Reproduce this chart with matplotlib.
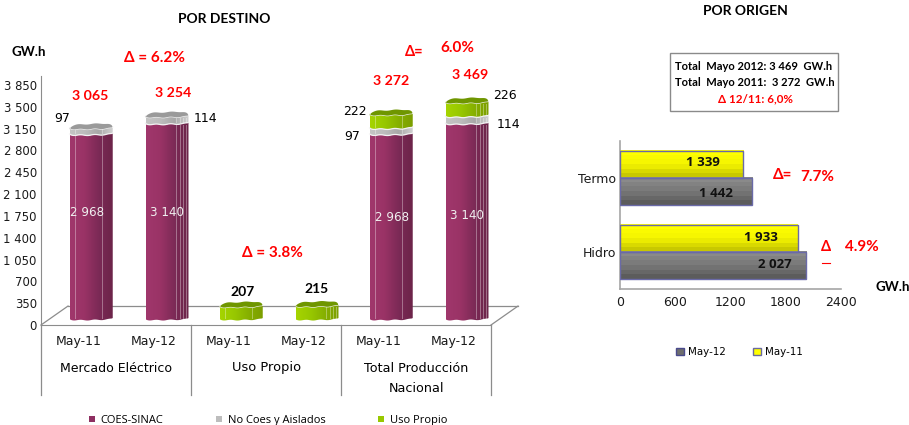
import matplotlib
matplotlib.use("Agg")
import matplotlib.pyplot as plt
import numpy as np
from matplotlib.patches import Polygon, Rectangle
from matplotlib.colors import LinearSegmentedColormap

W, H = 909, 425

# stacked cylinders, por destino
periods = ["May-11", "May-12", "May-11", "May-12", "May-11", "May-12"]
groups = ["Mercado Eléctrico", "Uso Propio", "Total Producción", "Nacional"]
coes = [2968, 3140, 0, 0, 2968, 3140]
no_coes = [97, 114, 0, 0, 97, 114]
uso_propio = [0, 0, 207, 215, 222, 226]
totals = ["3 065", "3 254", "207", "215", "3 272", "3 469"]
y_ticks = [0, 350, 700, 1050, 1400, 1750, 2100, 2450, 2800, 3150, 3500, 3850]
y_labels = ["0", "350", "700", "1 050", "1 400", "1 750", "2 100", "2 450", "2 800", "3 150", "3 500", "3 850"]

# horizontal bars, por origen
origen = ["Hidro", "Termo"]
may12 = [2027, 1442]
may11 = [1933, 1339]
x_ticks = [0, 600, 1200, 1800, 2400]

plt.rcParams["font.family"] = ["DejaVu Sans"]
BOLD = ["Lato", "DejaVu Sans"]
RED = "#ff0000"
GRID = "#8c8c8c"

fig = plt.figure(figsize=(W / 100, H / 100), dpi=100)


def px_axes(x0, y0, x1, y1):
    # axes rectangle given in picture pixels, y going down
    return fig.add_axes([x0 / W, 1 - y1 / H, (x1 - x0) / W, (y1 - y0) / H])


# overlay for free text, in picture pixels
top = px_axes(0, 0, W, H)
top.set_xlim(0, W)
top.set_ylim(H, 0)
top.axis("off")
top.set_zorder(5)


def label(x, y, s, **kw):
    kw.setdefault("ha", "center")
    kw.setdefault("va", "center")
    top.text(x, y, s, **kw)


def red(x, y, s, size=10.5):
    label(x, y, s, color=RED, fontsize=size, fontweight="bold", family=BOLD)


purple = LinearSegmentedColormap.from_list("p", ["#a0376c", "#9a3366", "#7c2a56", "#6c2449"])
silver = LinearSegmentedColormap.from_list("s", ["#c4c4c4", "#bdbdbd", "#a8a8a8", "#d0d0d0"])
green = LinearSegmentedColormap.from_list("g", ["#a6d400", "#98c800", "#86b000", "#7c9e00"])

YMAX = 4000
ax = px_axes(41, 325 - YMAX * 240 / 3850, 491, 325)
ax.set_xlim(-0.5, 5.5)
ax.set_ylim(0, YMAX)
ax.patch.set_alpha(0)

# 3d look: the bars stand on a floor that is pushed back and to the right
DX = 0.17
BASE = 96
BAR_W = 0.573
ELL = 85  # height of the end caps, in value units
u = np.linspace(-1, 1, 61)
front = -24 * (1 - u ** 4) ** 0.5 + 7 * np.sin(3 * np.pi * u) + 16 * (u + 1) / 2


def cylinder(x, bottom, height, cmap, cap=None):
    x0 = x + DX - BAR_W / 2 + (0.01 if x % 2 else 0)
    xs = x0 + (u + 1) / 2 * BAR_W
    lo = bottom + BASE + front
    hi = lo + height
    verts = list(zip(xs, lo)) + list(zip(xs[::-1], hi[::-1]))
    body = Polygon(verts, closed=True, fc="none", ec="none", clip_on=False, zorder=3)
    ax.add_patch(body)
    im = ax.imshow(np.linspace(0, 1, 64).reshape(1, -1), extent=(x0, x0 + BAR_W, lo.min(), hi.max()),
                   aspect="auto", cmap=cmap, zorder=3, clip_on=True)
    im.set_clip_path(body)
    # white edge lines and the facets of the chart's rough cylinder
    ax.plot(xs, hi, color="#f2f2f2", lw=0.9, zorder=4, clip_on=False)
    facets = (0.72, 0.8, 0.88, 0.95) if x % 2 else (0.12, 0.74)
    for f in facets:
        ax.plot([x0 + BAR_W * f] * 2, [lo.max(), hi.min()], color="white", alpha=.35, lw=.7, zorder=4)
    if cap:
        up = hi.mean() + ELL * (1 - u ** 6) ** 0.5 * (0.9 + 0.08 * np.sin(2.5 * np.pi * u)) + 14 * u
        ax.add_patch(Polygon(list(zip(xs, hi)) + list(zip(xs[::-1], up[::-1])), closed=True,
                             fc=cap, ec="none", zorder=4, clip_on=False))


# floor and back wall edge
floor_x = [-0.5 + 27 / 75, 5.5 + 27 / 75]
ax.plot(floor_x, [304, 304], color=GRID, lw=0.9, zorder=1, clip_on=False)
ax.plot([-0.5, floor_x[0]], [0, 304], color=GRID, lw=0.9, zorder=1, clip_on=False)
ax.plot([5.5, floor_x[1]], [0, 304], color=GRID, lw=0.9, zorder=1, clip_on=False)

for i in range(6):
    b = 0
    layers = [(coes[i], purple, None), (no_coes[i], silver, "#9a9a9a"), (uso_propio[i], green, "#6f9600")]
    present = [l for l in layers if l[0] > 0]
    for j, (v, cm, cap) in enumerate(present):
        cylinder(i, b, v, cm, cap if j == len(present) - 1 else None)
        b += v

ax.set_xlim(-0.5, 5.5)
ax.set_ylim(0, YMAX)
ax.set_yticks(y_ticks, y_labels, fontsize=8.4)
ax.set_xticks(range(6), periods, fontsize=9)
ax.tick_params(length=0, pad=3, colors="#1a1a1a")
ax.tick_params(axis="x", pad=7)
for s in ("top", "right"):
    ax.spines[s].set_visible(False)
for s in ("left", "bottom"):
    ax.spines[s].set_color(GRID)

# second level of the category axis
for d in (-0.5, 1.5, 3.5, 5.5):
    ax.plot([d, d], [0, -1120], color=GRID, lw=0.9, clip_on=False)
label(116, 368, groups[0], fontsize=9)
label(267, 368, groups[1], fontsize=9.4)
label(416, 368, groups[2], fontsize=9.2)
label(416, 388, groups[3], fontsize=9.2)

# values on the bars
for x, y, v in ((87, 212, coes[0]), (167, 212, coes[1]), (392, 217, coes[4]), (467, 215, coes[5])):
    label(x, y, f"{v:,}".replace(",", " "), color="#f0f0f0", fontsize=8.6)

red(90, 96, totals[0], 10.2)
red(173, 93, totals[1], 10.2)
label(243, 292, totals[2], fontsize=10, fontweight="bold", family=BOLD)
label(317, 289, totals[3], fontsize=10, fontweight="bold", family=BOLD)
red(391, 81, totals[4], 10.2)
red(470, 75, totals[5], 10.2)
label(62, 118, "97", fontsize=9)
label(205, 118, "114", fontsize=9)
label(355, 111, "222", fontsize=9)
label(352, 137, "97", fontsize=9)
label(505, 95, "226", fontsize=9)
label(508, 124, "114", fontsize=9)

red(155, 58, "Δ = 6.2%", 11)
red(272, 253, "Δ = 3.8%", 11)
red(414, 52, "Δ=", 10.5)
red(457, 48, "6.0%", 11)

label(224, 19, "POR DESTINO", fontsize=10, fontweight="bold", family=BOLD)
label(745, 11, "POR ORIGEN", fontsize=10, fontweight="bold", family=BOLD)
label(29, 52, "GW.h", fontsize=9.6, fontweight="bold", family=BOLD)
label(893, 287, "GW.h", fontsize=9.6, fontweight="bold", family=BOLD)

# box with the totals
top.add_patch(Rectangle((669.5, 52.5), 168, 58, fc="white", ec="#8a8a8a", lw=1))
label(754, 66, "Total  Mayo 2012: 3 469  GW.h", fontsize=8, fontweight="bold", family=BOLD)
label(755, 82, "Total  Mayo 2011:  3 272  GW.h", fontsize=8, fontweight="bold", family=BOLD)
label(755, 99, "Δ 12/11: 6,0%", fontsize=8.4, fontweight="bold", family=BOLD, color=RED)

# right chart
bx = px_axes(620, 141, 840.5, 289)
bx.set_xlim(0, 2400)
bx.set_ylim(-0.5, 1.5)
bx.patch.set_alpha(0)
yellow = LinearSegmentedColormap.from_list("y", ["#ffff00", "#f4f400", "#c8c800"])
gray = LinearSegmentedColormap.from_list("gr", ["#8a8a8a", "#787878", "#5c5c5c"])
BAR_H = 0.365
ramp = np.linspace(0, 1, 6).reshape(-1, 1)
for i in range(2):
    for vals, cm, y0, y1 in ((may11, yellow, i, i + BAR_H), (may12, gray, i - BAR_H, i)):
        bx.imshow(ramp, extent=(0, vals[i], y0, y1), aspect="auto", cmap=cm, zorder=2)
        bx.barh((y0 + y1) / 2, vals[i], height=BAR_H, fc="none", ec="#6a6aa8", lw=1, zorder=3)
bx.set_xlim(0, 2400)
bx.set_ylim(-0.5, 1.5)
bx.set_xticks(x_ticks, [str(t) for t in x_ticks], fontsize=9)
bx.set_yticks([0, 1], origen, fontsize=9)
bx.tick_params(length=0, colors="#1a1a1a")
bx.tick_params(axis="x", pad=5)
bx.tick_params(axis="y", pad=3)
for s in ("top", "right"):
    bx.spines[s].set_visible(False)
for s in ("left", "bottom"):
    bx.spines[s].set_color("#a6a6a6")
    bx.spines[s].set_linewidth(1.2)

for x, y, v in ((703, 163, may11[1]), (716, 193, may12[1]), (761, 237, may11[0]), (775, 265, may12[0])):
    label(x, y, f"{v:,}".replace(",", " "), fontsize=9.5, fontweight="bold",
          family=["Open Sans", "DejaVu Sans"], color="#111111")

red(783, 175, "Δ=", 11)
red(817, 177, "7.7%", 11)
red(826, 247, "Δ", 10.5)
red(862, 247, "4.9%", 11)
top.plot([822, 830], [263, 263], color=RED, lw=0.8)

# legends
h1 = [Rectangle((0, 0), 1, 1, fc=c, ec="none") for c in ("#8e2f61", "#bdbdbd", "#98c800")]
fig.legend(h1, ["COES-SINAC", "No Coes y Aislados", "Uso Propio"], ncol=3, frameon=False,
           loc="center left", bbox_to_anchor=(89 / W, 1 - 420.5 / H), handlelength=0.5, handleheight=0.5,
           columnspacing=4.75, handletextpad=0.55, borderpad=0, borderaxespad=0,
           prop={"family": "Open Sans", "size": 8})
h2 = [Rectangle((0, 0), 1, 1, fc="#6e6e6e", ec="#4a4a8c"), Rectangle((0, 0), 1, 1, fc="#ffff00", ec="#6a6aa0")]
fig.legend(h2, ["May-12", "May-11"], ncol=2, frameon=False, fontsize=7.4,
           loc="center left", bbox_to_anchor=(676 / W, 1 - 352 / H), handlelength=0.75, handleheight=0.75,
           columnspacing=2.7, handletextpad=0.4, borderpad=0, borderaxespad=0)

fig.savefig("out.png", dpi=100)
